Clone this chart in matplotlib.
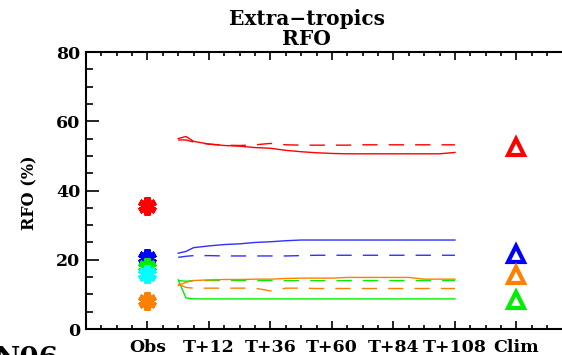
import matplotlib.pyplot as plt
from matplotlib.ticker import MultipleLocator

# forecast lead times (hours) and RFO values (%)
hours = [0, 3, 6, 12, 18, 24, 30, 36, 42, 48, 54, 60, 66, 72, 78, 84, 90, 96, 102, 108]

red_solid = [55.0, 55.6, 54.2, 53.4, 53.0, 52.8, 52.4, 52.2, 51.6, 51.2,
             50.9, 50.7, 50.6, 50.6, 50.6, 50.6, 50.6, 50.6, 50.6, 51.0]
red_dashed = [54.6, 54.6, 54.0, 53.4, 53.1, 53.0, 53.2, 53.6, 53.2, 53.1,
              53.1, 53.1, 53.1, 53.2, 53.2, 53.2, 53.2, 53.2, 53.2, 53.2]
blue_solid = [21.9, 22.4, 23.5, 24.0, 24.4, 24.6, 25.0, 25.2, 25.5, 25.7,
              25.7, 25.7, 25.7, 25.7, 25.7, 25.7, 25.7, 25.7, 25.7, 25.7]
blue_dashed = [20.7, 21.0, 21.2, 21.2, 21.1, 21.1, 21.1, 21.1, 21.1, 21.2,
               21.3, 21.3, 21.3, 21.3, 21.3, 21.3, 21.3, 21.3, 21.3, 21.3]
orange_solid = [12.5, 13.5, 14.0, 14.2, 14.3, 14.3, 14.4, 14.4, 14.6, 14.7,
                14.7, 14.7, 14.9, 14.9, 14.9, 14.9, 14.9, 14.4, 14.4, 14.4]
orange_dashed = [13.0, 12.0, 11.8, 11.8, 11.8, 11.8, 11.8, 11.0, 11.8, 11.8,
                 11.7, 11.7, 11.7, 11.7, 11.7, 11.7, 11.7, 11.7, 11.7, 11.7]
green_solid = [14.2, 9.0, 8.7, 8.7, 8.7, 8.7, 8.7, 8.7, 8.7, 8.7,
               8.7, 8.7, 8.7, 8.7, 8.7, 8.7, 8.7, 8.7, 8.7, 8.7]
green_dashed = [14.0, 13.8, 14.0, 14.0, 14.0, 14.0, 14.0, 14.0, 14.0, 14.0,
                14.0, 14.0, 14.0, 14.0, 14.0, 14.0, 14.0, 14.0, 14.0, 14.0]

# observed and climatological values
obs_colors = ['red', 'blue', '#00ee00', 'cyan', '#ff8000']
obs_values = [35.4, 20.5, 17.9, 15.9, 8.2]
clim_colors = ['red', 'blue', '#ff8000', '#00ee00']
clim_values = [52.7, 21.8, 15.6, 8.4]

tick_pos = [-12, 12, 36, 60, 84, 108, 132]
tick_labels = ['Obs', 'T+12', 'T+36', 'T+60', 'T+84', 'T+108', 'Clim']

fig = plt.figure(figsize=(5.62, 3.55), dpi=100)
ax = fig.add_axes([0.153, 0.0732, 0.8754, 0.7803])

dash = (0, (11, 8))
ax.plot(hours, red_solid, color='red', lw=1.0)
ax.plot(hours, red_dashed, color='red', lw=1.0, linestyle=dash)
ax.plot(hours, blue_solid, color='#3030ff', lw=1.0)
ax.plot(hours, blue_dashed, color='#3030ff', lw=1.0, linestyle=dash)
ax.plot(hours, green_dashed, color='#00ee00', lw=1.0, linestyle=dash)
ax.plot(hours, green_solid, color='#00ee00', lw=1.0)
ax.plot(hours, orange_solid, color='#ff8000', lw=1.0)
ax.plot(hours, orange_dashed, color='#ff8000', lw=1.0, linestyle=dash)

for c, v in zip(obs_colors, obs_values):
    ax.plot(-12, v, marker=(6, 2, 0), color=c, markersize=13, mew=4.5,
            linestyle='none')
for c, v in zip(clim_colors, clim_values):
    ax.plot(132, v, marker='^', color=c, markersize=12, mew=3,
            mfc='white', linestyle='none')

ax.set_xlim(-36, 156)
ax.set_ylim(0, 80)
ax.set_xticks(tick_pos)
ax.set_xticklabels(tick_labels)
ax.xaxis.set_minor_locator(MultipleLocator(6))
ax.yaxis.set_major_locator(MultipleLocator(20))
ax.yaxis.set_minor_locator(MultipleLocator(5))

for lab in ax.get_xticklabels() + ax.get_yticklabels():
    lab.set_fontfamily('DejaVu Serif')
    lab.set_fontweight('bold')
    lab.set_fontsize(12.5)

ax.tick_params(which='both', direction='in', top=True, right=True, width=1.2)
ax.tick_params(axis='y', which='major', length=9, pad=4)
ax.tick_params(axis='y', which='minor', length=5)
ax.tick_params(axis='x', which='major', length=6, pad=7)
ax.tick_params(axis='x', which='minor', length=3)
for s in ax.spines.values():
    s.set_linewidth(1.5)

fig.text(0.546, 1 - 25 / 355, 'Extra\u2212tropics', ha='center', va='baseline',
         family='DejaVu Serif', weight='bold', fontsize=14.5)
fig.text(0.546, 1 - 45 / 355, 'RFO', ha='center', va='baseline',
         family='DejaVu Serif', weight='bold', fontsize=14.5)
fig.text(30 / 562, 1 - 193 / 355, 'RFO (%)', rotation=90, ha='center', va='center',
         family='DejaVu Serif', weight='bold', fontsize=11.5)
# partly visible panel label at the bottom edge, as in the original
fig.text(-0.01, 1 - 346 / 355, 'N06', ha='left', va='top',
         family='DejaVu Serif', weight='bold', fontsize=20)

fig.savefig('out.png', dpi=100)
